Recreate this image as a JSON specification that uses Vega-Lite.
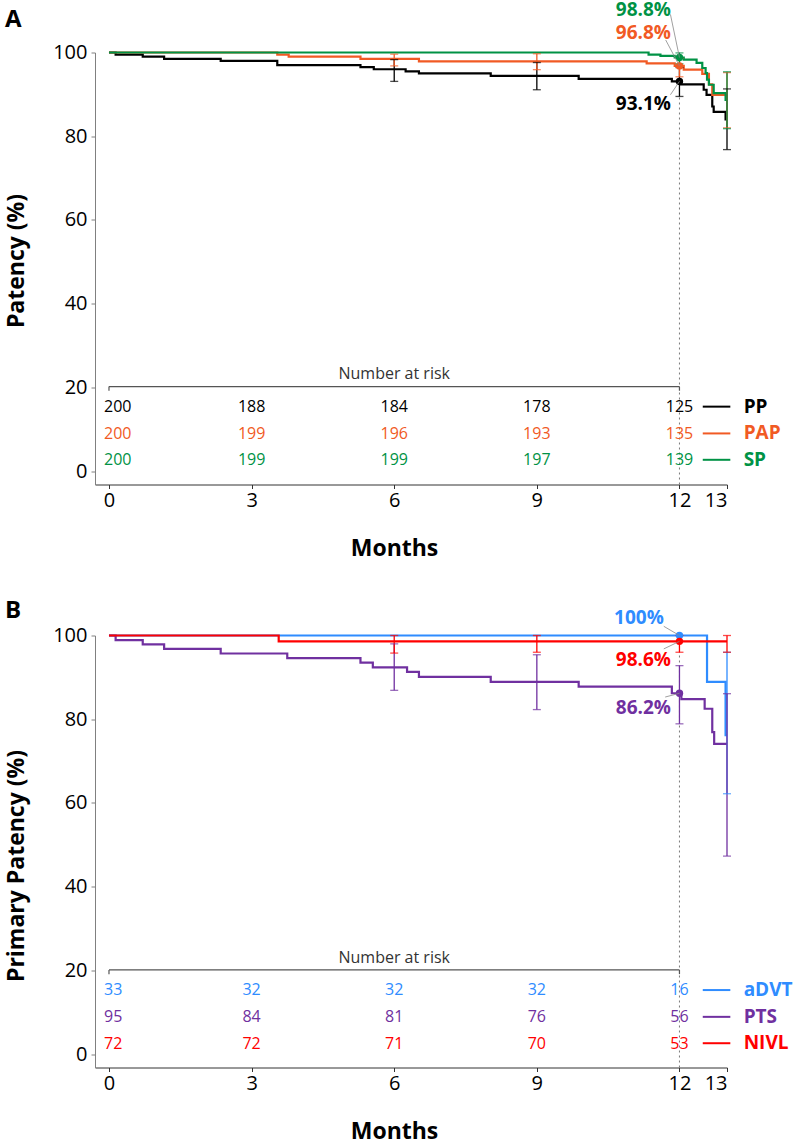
{
 "$schema": "https://vega.github.io/schema/vega-lite/v6.json",
 "padding": {"left": 5, "top": 0.5, "right": 5, "bottom": 2},
 "bounds": "flush",
 "spacing": 151,
 "config": {
  "font": "Open Sans",
  "view": {"stroke": null},
  "axis": {"grid": false, "labelFont": "Open Sans", "labelFontSize": 20, "labelColor": "#000", "titleFont": "Open Sans", "titleFontSize": 23, "titleFontWeight": "bold", "titleColor": "#000", "tickSize": 4},
  "axisX": {"domainColor": "#333", "tickColor": "#333", "labelPadding": 2, "titleX": 299, "titleY": 64, "titleBaseline": "middle", "titleAlign": "center"},
  "axisY": {"domainColor": "#808080", "tickColor": "#808080", "labelPadding": 4, "titleX": -79, "titleY": 216, "titleBaseline": "middle", "titleAlign": "center", "titleAngle": 270},
  "title": {"font": "Open Sans", "fontSize": 24, "fontWeight": "bold", "anchor": "start", "frame": "bounds", "color": "#000"}
 },
 "datasets": {
  "curvesA": [
   {"group": "PP", "month": 0, "surv": 100}, {"group": "PP", "month": 0.14, "surv": 99.5}, {"group": "PP", "month": 0.71, "surv": 99.0}, {"group": "PP", "month": 1.16, "surv": 98.5}, {"group": "PP", "month": 2.35, "surv": 98.0}, {"group": "PP", "month": 3.54, "surv": 97.0}, {"group": "PP", "month": 5.29, "surv": 96.5}, {"group": "PP", "month": 5.57, "surv": 96.0}, {"group": "PP", "month": 6.24, "surv": 95.5}, {"group": "PP", "month": 6.52, "surv": 95.0}, {"group": "PP", "month": 8.03, "surv": 94.4}, {"group": "PP", "month": 9.88, "surv": 93.7}, {"group": "PP", "month": 11.84, "surv": 93.1}, {"group": "PP", "month": 12.03, "surv": 92.4}, {"group": "PP", "month": 12.51, "surv": 91.1}, {"group": "PP", "month": 12.57, "surv": 89.9}, {"group": "PP", "month": 12.69, "surv": 87.1}, {"group": "PP", "month": 12.72, "surv": 85.8}, {"group": "PP", "month": 12.97, "surv": 84.0}, {"group": "PP", "month": 13.0, "surv": 84.0},
   {"group": "PAP", "month": 0, "surv": 100}, {"group": "PAP", "month": 3.54, "surv": 99.5}, {"group": "PAP", "month": 3.78, "surv": 99.0}, {"group": "PAP", "month": 5.29, "surv": 98.5}, {"group": "PAP", "month": 6.52, "surv": 97.9}, {"group": "PAP", "month": 11.31, "surv": 97.4}, {"group": "PAP", "month": 11.9, "surv": 96.8}, {"group": "PAP", "month": 12.09, "surv": 95.9}, {"group": "PAP", "month": 12.48, "surv": 94.9}, {"group": "PAP", "month": 12.62, "surv": 92.4}, {"group": "PAP", "month": 12.69, "surv": 89.9}, {"group": "PAP", "month": 13.0, "surv": 89.9},
   {"group": "SP", "month": 0, "surv": 100}, {"group": "SP", "month": 11.35, "surv": 99.5}, {"group": "SP", "month": 11.6, "surv": 99.2}, {"group": "SP", "month": 11.9, "surv": 98.8}, {"group": "SP", "month": 12.09, "surv": 98.3}, {"group": "SP", "month": 12.36, "surv": 97.5}, {"group": "SP", "month": 12.48, "surv": 96.3}, {"group": "SP", "month": 12.55, "surv": 95.1}, {"group": "SP", "month": 12.58, "surv": 93.5}, {"group": "SP", "month": 12.62, "surv": 92.3}, {"group": "SP", "month": 12.72, "surv": 90.3}, {"group": "SP", "month": 12.97, "surv": 88.7}, {"group": "SP", "month": 13.0, "surv": 88.7}
  ],
  "errA": [
   {"group": "PP", "month": 6, "lo": 93.1, "hi": 98.3}, {"group": "PP", "month": 9, "lo": 91.1, "hi": 97.6}, {"group": "PP", "month": 12, "lo": 89.5, "hi": 96.4}, {"group": "PP", "month": 13, "lo": 76.8, "hi": 91.3},
   {"group": "PAP", "month": 6, "lo": 96.8, "hi": 99.6}, {"group": "PAP", "month": 9, "lo": 95.9, "hi": 99.7}, {"group": "PAP", "month": 12, "lo": 94.2, "hi": 98.6}, {"group": "PAP", "month": 13, "lo": 82.0, "hi": 95.2},
   {"group": "SP", "month": 12, "lo": 97.3, "hi": 99.9}, {"group": "SP", "month": 13, "lo": 81.8, "hi": 95.4}
  ],
  "ptsA": [
   {"group": "PP", "month": 12, "surv": 93.1, "label": "93.1%"},
   {"group": "PAP", "month": 12, "surv": 96.8, "label": "96.8%"},
   {"group": "SP", "month": 12, "surv": 98.8, "label": "98.8%"}
  ],
  "riskA": [
   {"group": "PP", "month": 0, "n": 200}, {"group": "PP", "month": 3, "n": 188}, {"group": "PP", "month": 6, "n": 184}, {"group": "PP", "month": 9, "n": 178}, {"group": "PP", "month": 12, "n": 125},
   {"group": "PAP", "month": 0, "n": 200}, {"group": "PAP", "month": 3, "n": 199}, {"group": "PAP", "month": 6, "n": 196}, {"group": "PAP", "month": 9, "n": 193}, {"group": "PAP", "month": 12, "n": 135},
   {"group": "SP", "month": 0, "n": 200}, {"group": "SP", "month": 3, "n": 199}, {"group": "SP", "month": 6, "n": 199}, {"group": "SP", "month": 9, "n": 197}, {"group": "SP", "month": 12, "n": 139}
  ],
  "curvesB": [
   {"group": "aDVT", "month": 0, "surv": 100}, {"group": "aDVT", "month": 12.58, "surv": 88.9}, {"group": "aDVT", "month": 12.97, "surv": 76.2}, {"group": "aDVT", "month": 13.0, "surv": 76.2},
   {"group": "PTS", "month": 0, "surv": 100}, {"group": "PTS", "month": 0.14, "surv": 98.9}, {"group": "PTS", "month": 0.71, "surv": 97.9}, {"group": "PTS", "month": 1.16, "surv": 96.8}, {"group": "PTS", "month": 2.35, "surv": 95.7}, {"group": "PTS", "month": 3.75, "surv": 94.6}, {"group": "PTS", "month": 5.29, "surv": 93.5}, {"group": "PTS", "month": 5.55, "surv": 92.4}, {"group": "PTS", "month": 6.27, "surv": 91.3}, {"group": "PTS", "month": 6.52, "surv": 90.1}, {"group": "PTS", "month": 8.03, "surv": 88.9}, {"group": "PTS", "month": 9.88, "surv": 87.8}, {"group": "PTS", "month": 11.84, "surv": 86.2}, {"group": "PTS", "month": 12.04, "surv": 84.8}, {"group": "PTS", "month": 12.53, "surv": 82.5}, {"group": "PTS", "month": 12.69, "surv": 76.9}, {"group": "PTS", "month": 12.73, "surv": 74.1}, {"group": "PTS", "month": 13.0, "surv": 74.1},
   {"group": "NIVL", "month": 0, "surv": 100}, {"group": "NIVL", "month": 3.57, "surv": 98.6}, {"group": "NIVL", "month": 13.0, "surv": 98.6}
  ],
  "errB": [
   {"group": "aDVT", "month": 13, "lo": 62.2, "hi": 96.0},
   {"group": "PTS", "month": 6, "lo": 86.9, "hi": 98.0}, {"group": "PTS", "month": 9, "lo": 82.3, "hi": 95.4}, {"group": "PTS", "month": 12, "lo": 78.9, "hi": 92.8}, {"group": "PTS", "month": 13, "lo": 47.3, "hi": 86.1},
   {"group": "NIVL", "month": 6, "lo": 95.8, "hi": 100}, {"group": "NIVL", "month": 9, "lo": 96.0, "hi": 100}, {"group": "NIVL", "month": 12, "lo": 96.0, "hi": 100}, {"group": "NIVL", "month": 13, "lo": 96.0, "hi": 100}
  ],
  "ptsB": [
   {"group": "aDVT", "month": 12, "surv": 100, "label": "100%"},
   {"group": "NIVL", "month": 12, "surv": 98.6, "label": "98.6%"},
   {"group": "PTS", "month": 12, "surv": 86.2, "label": "86.2%"}
  ],
  "riskB": [
   {"group": "aDVT", "month": 0, "n": 33}, {"group": "aDVT", "month": 3, "n": 32}, {"group": "aDVT", "month": 6, "n": 32}, {"group": "aDVT", "month": 9, "n": 32}, {"group": "aDVT", "month": 12, "n": 16},
   {"group": "PTS", "month": 0, "n": 95}, {"group": "PTS", "month": 3, "n": 84}, {"group": "PTS", "month": 6, "n": 81}, {"group": "PTS", "month": 9, "n": 76}, {"group": "PTS", "month": 12, "n": 56},
   {"group": "NIVL", "month": 0, "n": 72}, {"group": "NIVL", "month": 3, "n": 72}, {"group": "NIVL", "month": 6, "n": 71}, {"group": "NIVL", "month": 9, "n": 70}, {"group": "NIVL", "month": 12, "n": 53}
  ]
 },
 "vconcat": [
  {
   "width": 632, "height": 432,
   "title": {"text": "A", "offset": -31},
   "layer": [
    {"data": {"values": [{"month": 12}]}, "mark": {"type": "rule", "strokeDash": [2, 3], "color": "#7a7a7a", "strokeWidth": 1}, "encoding": {"x": {"field": "month", "type": "quantitative"}, "y": {"datum": -3.2}, "y2": {"datum": 100}}},
    {"data": {"values": [{"t": "Number at risk"}]}, "mark": {"type": "rule", "color": "#555", "strokeWidth": 1.2}, "encoding": {"x": {"datum": 0}, "x2": {"datum": 12}, "y": {"datum": 20.2}}},
    {"data": {"values": [{"month": 0}, {"month": 12}]}, "mark": {"type": "rule", "color": "#555", "strokeWidth": 1.2}, "encoding": {"x": {"field": "month", "type": "quantitative"}, "y": {"datum": 20.2}, "y2": {"datum": 19.2}}},
    {"data": {"values": [{"t": "Number at risk"}]}, "mark": {"type": "text", "fontSize": 16, "color": "#333", "baseline": "middle"}, "encoding": {"x": {"datum": 6}, "y": {"datum": 23.2}, "text": {"field": "t"}}},
    {"data": {"name": "curvesA"}, "mark": {"type": "line", "interpolate": "step-after", "strokeWidth": 2.2},
     "encoding": {
      "x": {"field": "month", "type": "quantitative", "scale": {"domain": [-0.294, 13], "nice": false, "zero": false}, "axis": {"values": [0, 3, 6, 9, 12, 13], "title": "Months"}},
      "y": {"field": "surv", "type": "quantitative", "scale": {"domain": [-3.2, 100], "nice": false, "zero": false}, "axis": {"values": [0, 20, 40, 60, 80, 100], "title": "Patency (%)", "titleY": 208}},
      "color": {"field": "group", "type": "nominal", "legend": null, "scale": {"domain": ["PP", "PAP", "SP", "aDVT", "PTS", "NIVL"], "range": ["#000000", "#F15A24", "#009245", "#2F8CFF", "#7030A0", "#FF0000"]}}
     }},
    {"data": {"name": "errA"}, "mark": {"type": "rule", "strokeWidth": 1.3}, "encoding": {"x": {"field": "month", "type": "quantitative"}, "y": {"field": "lo", "type": "quantitative"}, "y2": {"field": "hi"}, "color": {"field": "group", "type": "nominal", "legend": null}}},
    {"data": {"name": "errA"}, "transform": [{"fold": ["lo", "hi"], "as": ["k", "v"]}], "mark": {"type": "tick", "orient": "horizontal", "size": 8, "thickness": 1.3}, "encoding": {"x": {"field": "month", "type": "quantitative"}, "y": {"field": "v", "type": "quantitative"}, "color": {"field": "group", "type": "nominal", "legend": null}}},
    {"data": {"name": "ptsA"}, "mark": {"type": "circle", "size": 55, "opacity": 1}, "encoding": {"x": {"field": "month", "type": "quantitative"}, "y": {"field": "surv", "type": "quantitative"}, "color": {"field": "group", "type": "nominal", "legend": null}}},
    {"data": {"name": "ptsA"}, "transform": [{"filter": "datum.group == 'SP'"}], "mark": {"type": "rule", "color": "#888", "strokeWidth": 0.8}, "encoding": {"x": {"field": "month", "type": "quantitative"}, "y": {"field": "surv", "type": "quantitative"}, "x2": {"datum": 11.81}, "y2": {"datum": 109.1}}},
    {"data": {"name": "ptsA"}, "transform": [{"filter": "datum.group == 'PAP'"}], "mark": {"type": "rule", "color": "#888", "strokeWidth": 0.8}, "encoding": {"x": {"field": "month", "type": "quantitative"}, "y": {"field": "surv", "type": "quantitative"}, "x2": {"datum": 11.71}, "y2": {"datum": 103.0}}},
    {"data": {"name": "ptsA"}, "transform": [{"filter": "datum.group == 'PP'"}], "mark": {"type": "rule", "color": "#888", "strokeWidth": 0.8}, "encoding": {"x": {"field": "month", "type": "quantitative"}, "y": {"field": "surv", "type": "quantitative"}, "x2": {"datum": 11.81}, "y2": {"datum": 89.9}}},
    {"data": {"name": "ptsA"}, "transform": [{"filter": "datum.group == 'SP'"}], "mark": {"type": "text", "align": "right", "baseline": "middle", "fontSize": 19, "fontWeight": "bold"}, "encoding": {"x": {"datum": 11.82}, "y": {"datum": 110.25}, "text": {"field": "label"}, "color": {"field": "group", "type": "nominal", "legend": null}}},
    {"data": {"name": "ptsA"}, "transform": [{"filter": "datum.group == 'PAP'"}], "mark": {"type": "text", "align": "right", "baseline": "middle", "fontSize": 19, "fontWeight": "bold"}, "encoding": {"x": {"datum": 11.82}, "y": {"datum": 104.6}, "text": {"field": "label"}, "color": {"field": "group", "type": "nominal", "legend": null}}},
    {"data": {"name": "ptsA"}, "transform": [{"filter": "datum.group == 'PP'"}], "mark": {"type": "text", "align": "right", "baseline": "middle", "fontSize": 19, "fontWeight": "bold"}, "encoding": {"x": {"datum": 11.82}, "y": {"datum": 87.8}, "text": {"field": "label"}, "color": {"field": "group", "type": "nominal", "legend": null}}},
    {"data": {"name": "riskA"}, "transform": [{"filter": "datum.group == 'PP'"}], "mark": {"type": "text", "fontSize": 16, "baseline": "middle", "align": {"expr": "datum.month == 0 ? 'left' : 'center'"}, "dx": {"expr": "datum.month == 0 ? -5 : 0"}}, "encoding": {"x": {"field": "month", "type": "quantitative"}, "y": {"datum": 15.3}, "text": {"field": "n"}, "color": {"field": "group", "type": "nominal", "legend": null}}},
    {"data": {"name": "riskA"}, "transform": [{"filter": "datum.group == 'PAP'"}], "mark": {"type": "text", "fontSize": 16, "baseline": "middle", "align": {"expr": "datum.month == 0 ? 'left' : 'center'"}, "dx": {"expr": "datum.month == 0 ? -5 : 0"}}, "encoding": {"x": {"field": "month", "type": "quantitative"}, "y": {"datum": 8.9}, "text": {"field": "n"}, "color": {"field": "group", "type": "nominal", "legend": null}}},
    {"data": {"name": "riskA"}, "transform": [{"filter": "datum.group == 'SP'"}], "mark": {"type": "text", "fontSize": 16, "baseline": "middle", "align": {"expr": "datum.month == 0 ? 'left' : 'center'"}, "dx": {"expr": "datum.month == 0 ? -5 : 0"}}, "encoding": {"x": {"field": "month", "type": "quantitative"}, "y": {"datum": 2.6}, "text": {"field": "n"}, "color": {"field": "group", "type": "nominal", "legend": null}}},
    {"data": {"name": "riskA"}, "transform": [{"filter": "datum.group == 'PP' && datum.month == 12"}], "mark": {"type": "rule", "strokeWidth": 2}, "encoding": {"x": {"datum": 12.49}, "x2": {"datum": 13.07}, "y": {"datum": 15.4}, "color": {"field": "group", "type": "nominal", "legend": null}}},
    {"data": {"name": "riskA"}, "transform": [{"filter": "datum.group == 'PAP' && datum.month == 12"}], "mark": {"type": "rule", "strokeWidth": 2}, "encoding": {"x": {"datum": 12.49}, "x2": {"datum": 13.07}, "y": {"datum": 9.0}, "color": {"field": "group", "type": "nominal", "legend": null}}},
    {"data": {"name": "riskA"}, "transform": [{"filter": "datum.group == 'SP' && datum.month == 12"}], "mark": {"type": "rule", "strokeWidth": 2}, "encoding": {"x": {"datum": 12.49}, "x2": {"datum": 13.07}, "y": {"datum": 2.7}, "color": {"field": "group", "type": "nominal", "legend": null}}},
    {"data": {"name": "riskA"}, "transform": [{"filter": "datum.group == 'PP' && datum.month == 12"}], "mark": {"type": "text", "align": "left", "baseline": "middle", "fontSize": 19, "fontWeight": "bold"}, "encoding": {"x": {"datum": 13.35}, "y": {"datum": 15.4}, "text": {"field": "group"}, "color": {"field": "group", "type": "nominal", "legend": null}}},
    {"data": {"name": "riskA"}, "transform": [{"filter": "datum.group == 'PAP' && datum.month == 12"}], "mark": {"type": "text", "align": "left", "baseline": "middle", "fontSize": 19, "fontWeight": "bold"}, "encoding": {"x": {"datum": 13.35}, "y": {"datum": 9.0}, "text": {"field": "group"}, "color": {"field": "group", "type": "nominal", "legend": null}}},
    {"data": {"name": "riskA"}, "transform": [{"filter": "datum.group == 'SP' && datum.month == 12"}], "mark": {"type": "text", "align": "left", "baseline": "middle", "fontSize": 19, "fontWeight": "bold"}, "encoding": {"x": {"datum": 13.35}, "y": {"datum": 2.7}, "text": {"field": "group"}, "color": {"field": "group", "type": "nominal", "legend": null}}}
   ]
  },
  {
   "width": 632, "height": 432,
   "title": {"text": "B", "offset": -14},
   "layer": [
    {"data": {"values": [{"month": 12}]}, "mark": {"type": "rule", "strokeDash": [2, 3], "color": "#7a7a7a", "strokeWidth": 1}, "encoding": {"x": {"field": "month", "type": "quantitative"}, "y": {"datum": -3.2}, "y2": {"datum": 100}}},
    {"data": {"values": [{"t": "Number at risk"}]}, "mark": {"type": "rule", "color": "#555", "strokeWidth": 1.2}, "encoding": {"x": {"datum": 0}, "x2": {"datum": 12}, "y": {"datum": 20.1}}},
    {"data": {"values": [{"month": 0}, {"month": 12}]}, "mark": {"type": "rule", "color": "#555", "strokeWidth": 1.2}, "encoding": {"x": {"field": "month", "type": "quantitative"}, "y": {"datum": 20.1}, "y2": {"datum": 19.1}}},
    {"data": {"values": [{"t": "Number at risk"}]}, "mark": {"type": "text", "fontSize": 16, "color": "#333", "baseline": "middle"}, "encoding": {"x": {"datum": 6}, "y": {"datum": 22.9}, "text": {"field": "t"}}},
    {"data": {"name": "curvesB"}, "mark": {"type": "line", "interpolate": "step-after", "strokeWidth": 2.2},
     "encoding": {
      "x": {"field": "month", "type": "quantitative", "scale": {"domain": [-0.294, 13], "nice": false, "zero": false}, "axis": {"values": [0, 3, 6, 9, 12, 13], "title": "Months"}},
      "y": {"field": "surv", "type": "quantitative", "scale": {"domain": [-3.2, 100], "nice": false, "zero": false}, "axis": {"values": [0, 20, 40, 60, 80, 100], "title": "Primary Patency (%)", "titleY": 230}},
      "color": {"field": "group", "type": "nominal", "legend": null, "scale": {"domain": ["PP", "PAP", "SP", "aDVT", "PTS", "NIVL"], "range": ["#000000", "#F15A24", "#009245", "#2F8CFF", "#7030A0", "#FF0000"]}}
     }},
    {"data": {"name": "errB"}, "mark": {"type": "rule", "strokeWidth": 1.3}, "encoding": {"x": {"field": "month", "type": "quantitative"}, "y": {"field": "lo", "type": "quantitative"}, "y2": {"field": "hi"}, "color": {"field": "group", "type": "nominal", "legend": null}}},
    {"data": {"name": "errB"}, "transform": [{"fold": ["lo", "hi"], "as": ["k", "v"]}], "mark": {"type": "tick", "orient": "horizontal", "size": 8, "thickness": 1.3}, "encoding": {"x": {"field": "month", "type": "quantitative"}, "y": {"field": "v", "type": "quantitative"}, "color": {"field": "group", "type": "nominal", "legend": null}}},
    {"data": {"name": "ptsB"}, "mark": {"type": "circle", "size": 55, "opacity": 1}, "encoding": {"x": {"field": "month", "type": "quantitative"}, "y": {"field": "surv", "type": "quantitative"}, "color": {"field": "group", "type": "nominal", "legend": null}}},
    {"data": {"name": "ptsB"}, "transform": [{"filter": "datum.group == 'aDVT'"}], "mark": {"type": "rule", "color": "#888", "strokeWidth": 0.8}, "encoding": {"x": {"field": "month", "type": "quantitative"}, "y": {"field": "surv", "type": "quantitative"}, "x2": {"datum": 11.67}, "y2": {"datum": 102.2}}},
    {"data": {"name": "ptsB"}, "transform": [{"filter": "datum.group == 'NIVL'"}], "mark": {"type": "rule", "color": "#888", "strokeWidth": 0.8}, "encoding": {"x": {"field": "month", "type": "quantitative"}, "y": {"field": "surv", "type": "quantitative"}, "x2": {"datum": 11.67}, "y2": {"datum": 96.8}}},
    {"data": {"name": "ptsB"}, "transform": [{"filter": "datum.group == 'PTS'"}], "mark": {"type": "rule", "color": "#888", "strokeWidth": 0.8}, "encoding": {"x": {"field": "month", "type": "quantitative"}, "y": {"field": "surv", "type": "quantitative"}, "x2": {"datum": 11.7}, "y2": {"datum": 85.3}}},
    {"data": {"name": "ptsB"}, "transform": [{"filter": "datum.group == 'aDVT'"}], "mark": {"type": "text", "align": "right", "baseline": "middle", "fontSize": 19, "fontWeight": "bold"}, "encoding": {"x": {"datum": 11.67}, "y": {"datum": 104.2}, "text": {"field": "label"}, "color": {"field": "group", "type": "nominal", "legend": null}}},
    {"data": {"name": "ptsB"}, "transform": [{"filter": "datum.group == 'NIVL'"}], "mark": {"type": "text", "align": "right", "baseline": "middle", "fontSize": 19, "fontWeight": "bold"}, "encoding": {"x": {"datum": 11.82}, "y": {"datum": 94.2}, "text": {"field": "label"}, "color": {"field": "group", "type": "nominal", "legend": null}}},
    {"data": {"name": "ptsB"}, "transform": [{"filter": "datum.group == 'PTS'"}], "mark": {"type": "text", "align": "right", "baseline": "middle", "fontSize": 19, "fontWeight": "bold"}, "encoding": {"x": {"datum": 11.82}, "y": {"datum": 82.7}, "text": {"field": "label"}, "color": {"field": "group", "type": "nominal", "legend": null}}},
    {"data": {"name": "riskB"}, "transform": [{"filter": "datum.group == 'aDVT'"}], "mark": {"type": "text", "fontSize": 16, "baseline": "middle", "align": {"expr": "datum.month == 0 ? 'left' : 'center'"}, "dx": {"expr": "datum.month == 0 ? -5 : 0"}}, "encoding": {"x": {"field": "month", "type": "quantitative"}, "y": {"datum": 15.2}, "text": {"field": "n"}, "color": {"field": "group", "type": "nominal", "legend": null}}},
    {"data": {"name": "riskB"}, "transform": [{"filter": "datum.group == 'PTS'"}], "mark": {"type": "text", "fontSize": 16, "baseline": "middle", "align": {"expr": "datum.month == 0 ? 'left' : 'center'"}, "dx": {"expr": "datum.month == 0 ? -5 : 0"}}, "encoding": {"x": {"field": "month", "type": "quantitative"}, "y": {"datum": 8.8}, "text": {"field": "n"}, "color": {"field": "group", "type": "nominal", "legend": null}}},
    {"data": {"name": "riskB"}, "transform": [{"filter": "datum.group == 'NIVL'"}], "mark": {"type": "text", "fontSize": 16, "baseline": "middle", "align": {"expr": "datum.month == 0 ? 'left' : 'center'"}, "dx": {"expr": "datum.month == 0 ? -5 : 0"}}, "encoding": {"x": {"field": "month", "type": "quantitative"}, "y": {"datum": 2.5}, "text": {"field": "n"}, "color": {"field": "group", "type": "nominal", "legend": null}}},
    {"data": {"name": "riskB"}, "transform": [{"filter": "datum.group == 'aDVT' && datum.month == 12"}], "mark": {"type": "rule", "strokeWidth": 2}, "encoding": {"x": {"datum": 12.49}, "x2": {"datum": 13.07}, "y": {"datum": 15.3}, "color": {"field": "group", "type": "nominal", "legend": null}}},
    {"data": {"name": "riskB"}, "transform": [{"filter": "datum.group == 'PTS' && datum.month == 12"}], "mark": {"type": "rule", "strokeWidth": 2}, "encoding": {"x": {"datum": 12.49}, "x2": {"datum": 13.07}, "y": {"datum": 8.9}, "color": {"field": "group", "type": "nominal", "legend": null}}},
    {"data": {"name": "riskB"}, "transform": [{"filter": "datum.group == 'NIVL' && datum.month == 12"}], "mark": {"type": "rule", "strokeWidth": 2}, "encoding": {"x": {"datum": 12.49}, "x2": {"datum": 13.07}, "y": {"datum": 2.6}, "color": {"field": "group", "type": "nominal", "legend": null}}},
    {"data": {"name": "riskB"}, "transform": [{"filter": "datum.group == 'aDVT' && datum.month == 12"}], "mark": {"type": "text", "align": "left", "baseline": "middle", "fontSize": 19, "fontWeight": "bold"}, "encoding": {"x": {"datum": 13.35}, "y": {"datum": 15.3}, "text": {"field": "group"}, "color": {"field": "group", "type": "nominal", "legend": null}}},
    {"data": {"name": "riskB"}, "transform": [{"filter": "datum.group == 'PTS' && datum.month == 12"}], "mark": {"type": "text", "align": "left", "baseline": "middle", "fontSize": 19, "fontWeight": "bold"}, "encoding": {"x": {"datum": 13.35}, "y": {"datum": 8.9}, "text": {"field": "group"}, "color": {"field": "group", "type": "nominal", "legend": null}}},
    {"data": {"name": "riskB"}, "transform": [{"filter": "datum.group == 'NIVL' && datum.month == 12"}], "mark": {"type": "text", "align": "left", "baseline": "middle", "fontSize": 19, "fontWeight": "bold"}, "encoding": {"x": {"datum": 13.35}, "y": {"datum": 2.6}, "text": {"field": "group"}, "color": {"field": "group", "type": "nominal", "legend": null}}}
   ]
  }
 ]
}
